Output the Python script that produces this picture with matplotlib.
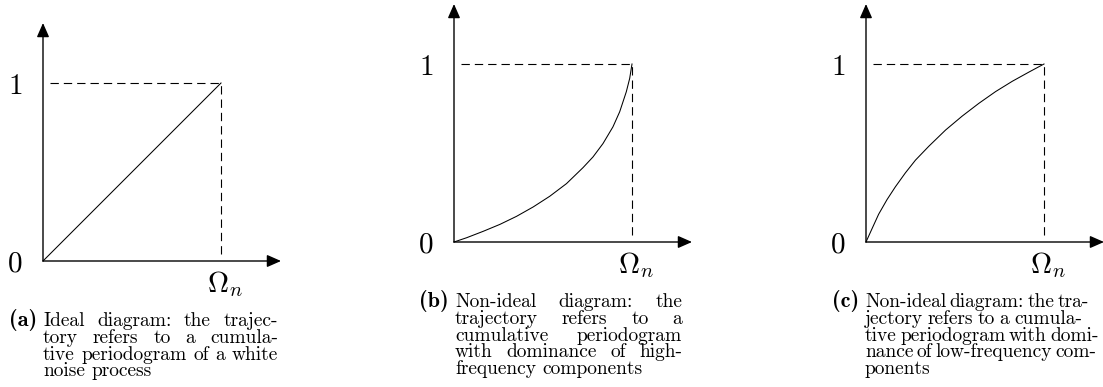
import matplotlib
matplotlib.use("Agg")
import matplotlib.pyplot as plt

plt.rcParams["mathtext.fontset"] = "cm"

W, H = 1103, 387

# cumulative periodogram trajectories (normalised frequency, normalised value)
ideal_x = [0.0, 1.0]
ideal_y = [0.0, 1.0]
high_x = [0.0, 0.071, 0.164, 0.258, 0.351, 0.445, 0.538, 0.632, 0.725,
          0.781, 0.837, 0.893, 0.931, 0.968, 0.987, 1.0]
high_y = [0.0, 0.024, 0.060, 0.099, 0.144, 0.197, 0.257, 0.328, 0.418,
          0.478, 0.553, 0.647, 0.732, 0.844, 0.919, 1.0]
low_x = [0.0, 0.034, 0.071, 0.118, 0.165, 0.221, 0.278, 0.353, 0.447,
         0.540, 0.634, 0.728, 0.822, 0.916, 1.0]
low_y = [0.0, 0.075, 0.156, 0.238, 0.310, 0.388, 0.460, 0.538, 0.629,
         0.707, 0.779, 0.845, 0.903, 0.955, 1.0]

y_ticks = ["0", "1"]
x_tick = r"$\Omega_n$"

labels = ["(a)", "(b)", "(c)"]
captions = [
    ["Ideal diagram:  the trajec-", "tory refers to a cumula-",
     "tive periodogram of a white", "noise process"],
    ["Non-ideal diagram: the", "trajectory refers to a",
     "cumulative periodogram", "with dominance of high-",
     "frequency components"],
    ["Non-ideal diagram: the tra-", "jectory refers to a cumula-",
     "tive periodogram with domi-", "nance of low-frequency com-",
     "ponents"],
]
curves = [(ideal_x, ideal_y), (high_x, high_y), (low_x, low_y)]

# pixel layout: origin of each diagram, side of the unit box
origins = [(43, 261), (454, 242), (866, 242)]
side = 178
cap_pos = [  # text left, text right, first baseline
    (43, 278, 326),
    (455, 682, 307),
    (865, 1082, 307),
]
line_step = 16.8

fig = plt.figure(figsize=(W / 100, H / 100), dpi=100)


def fx(x):
    return x / W


def fy(y):
    return 1 - y / H


for (ox, oy), (cx, cy) in zip(origins, curves):
    ax = fig.add_axes([fx(ox), fy(oy), side / W, side / H])
    ax.set_xlim(0, 1)
    ax.set_ylim(0, 1)
    ax.axis("off")
    arrow = dict(arrowstyle="-|>,head_length=0.5,head_width=0.22",
                 mutation_scale=17, lw=1.0, color="black",
                 shrinkA=0, shrinkB=0)
    ax.annotate("", xy=(1.337, 0), xytext=(0, 0), arrowprops=arrow,
                annotation_clip=False)
    ax.annotate("", xy=(0, 1.337), xytext=(0, 0), arrowprops=arrow,
                annotation_clip=False)
    ax.plot([0.04, 1], [1, 1], ls=(0, (7.5, 4.5)), lw=0.8, color="black",
            clip_on=False)
    ax.plot([1, 1], [0.04, 1], ls=(0, (7.5, 4.5)), lw=0.8, color="black",
            clip_on=False)
    ax.plot(cx, cy, color="black", lw=0.75, clip_on=False)
    ax.text(-0.158, -0.015, "$%s$" % y_ticks[0], fontsize=21,
            ha="center", va="center")
    ax.text(-0.158, 0.985, "$%s$" % y_ticks[1], fontsize=21,
            ha="center", va="center")
    ax.text(1.025, -0.13, x_tick, fontsize=21, ha="center", va="center")

renderer = fig.canvas.get_renderer()
cap_size = 14
min_gap = 3.5


def word_width(s):
    t = fig.text(0, 0, s, fontsize=cap_size, family="cmr10")
    w = t.get_window_extent(renderer).width
    t.remove()
    return w


space_w = word_width("a a") - word_width("aa")

for lab, lines, (left, right, base) in zip(labels, captions, cap_pos):
    fig.text(fx(left - 6), fy(base), lab, fontsize=16, family="cmb10",
             ha="right", va="baseline")
    for i, line in enumerate(lines):
        y = base + i * line_step
        words = line.split()
        widths = [word_width(w) for w in words]
        if i < len(lines) - 1 and len(words) > 1:
            gap = (right - left - sum(widths)) / (len(words) - 1)
            gap = max(gap, min_gap)
        else:
            gap = space_w
        x = left
        for w, wd in zip(words, widths):
            fig.text(fx(x), fy(y), w, fontsize=cap_size, family="cmr10",
                     va="baseline")
            x += wd + gap

fig.savefig("out.png", dpi=100)
